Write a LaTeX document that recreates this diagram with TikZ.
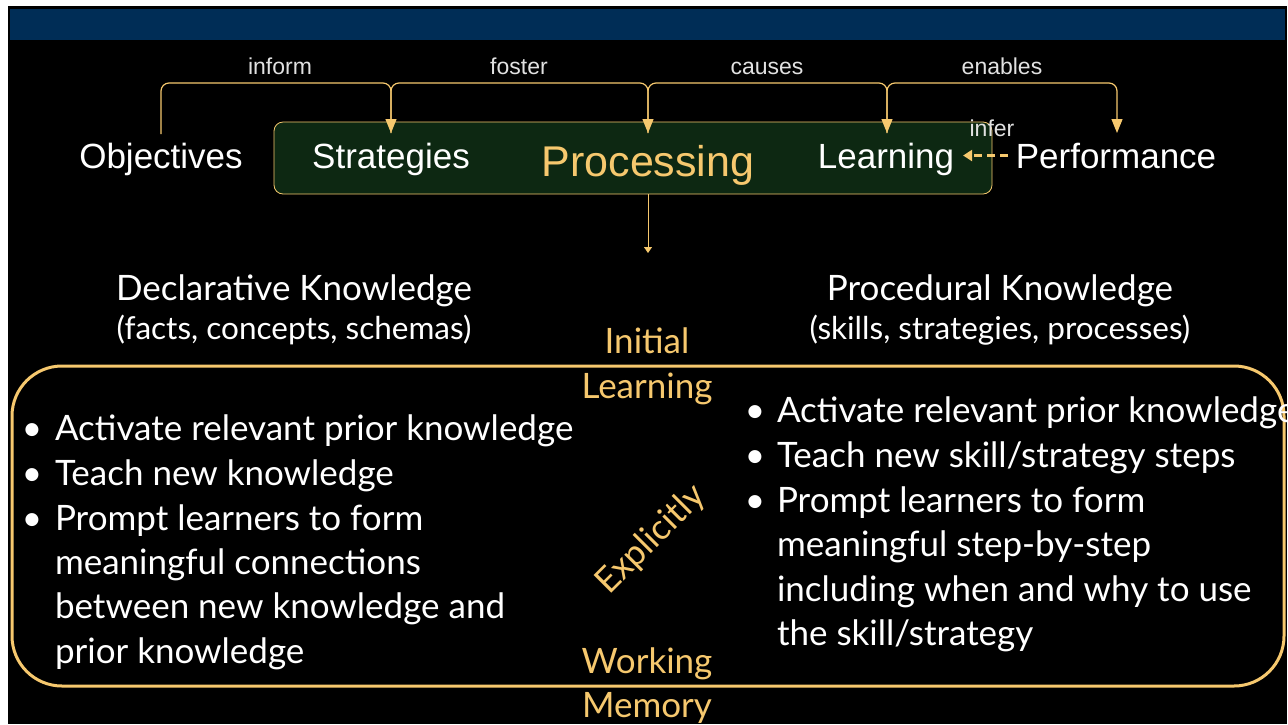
\documentclass[tikz,border=0pt]{standalone}
\usepackage{fontspec}
\newfontfamily\hfont{Liberation Sans}
\newfontfamily\bfont{Lato}
\usetikzlibrary{arrows.meta,calc}
\definecolor{gold}{RGB}{246,200,110}
\definecolor{band}{RGB}{0,45,86}
\definecolor{darkgreen}{RGB}{13,40,18}
\definecolor{lblgray}{RGB}{225,225,225}
\begin{document}
\begin{tikzpicture}[x=1pt,y=-1pt,
  every node/.style={inner sep=0pt, outer sep=0pt},
  toptext/.style={font=\hfont\fontsize{35}{38}\selectfont, text=white, anchor=base},
  reltext/.style={font=\hfont\fontsize{23}{26}\selectfont, text=lblgray, anchor=base},
  conn/.style={draw=gold, line width=1.2pt, rounded corners=8pt, -{Triangle[width=11pt,length=14pt]}},
  headtext/.style={font=\bfont\fontsize{35}{38}\selectfont, text=white, anchor=base},
  subtext/.style={font=\bfont\fontsize{31.5}{34}\selectfont, text=white, anchor=base},
  goldtext/.style={font=\bfont\fontsize{35}{38}\selectfont, text=gold, anchor=base},
  bullettext/.style={font=\bfont\fontsize{35}{38}\selectfont, text=white, anchor=base west},
  bulletdot/.style={font=\bfont\fontsize{35}{38}\selectfont, text=white, anchor=base}
]
\useasboundingbox (0,0) rectangle (1288,724);
\fill[white] (0,0) rectangle (1288,724);
\fill[black] (8,6) rectangle (1287,724);
\fill[band] (10,9) rectangle (1285,40);

% green processing box
\node[draw=gold, line width=0.8pt, fill=darkgreen, rounded corners=9pt,
      minimum width=718pt, minimum height=72pt] (box) at (633,158) {};

% top row
\node[toptext] (obj) at (161,168) {Objectives};
\node[toptext] (str) at (391,168) {Strategies};
\node[toptext, font=\hfont\fontsize{43}{46}\selectfont, text=gold] (proc) at (648,176) {Processing};
\node[toptext] (learn) at (886,168) {Learning};
\node[toptext] (perf) at (1116,168) {Performance};

\coordinate (lvl) at (0,83);
\coordinate (objT) at (161,134);
\coordinate (strT) at (391,133);
\coordinate (procT) at (648,133);
\coordinate (learnT) at (887,133);
\coordinate (perfT) at (1117,133);

\draw[conn] (objT) -- (objT |- lvl) -- (strT |- lvl) -- (strT);
\draw[conn] (strT) -- (strT |- lvl) -- (procT |- lvl) -- (procT);
\draw[conn] (procT) -- (procT |- lvl) -- (learnT |- lvl) -- (learnT);
\draw[conn] (learnT) -- (learnT |- lvl) -- (perfT |- lvl) -- (perfT);

\node[reltext] (inform) at (280,74) {inform};
\node[reltext] (foster) at (519,74) {foster};
\node[reltext] (causes) at (767,74) {causes};
\node[reltext] (enables) at (1002,74) {enables};
\node[reltext] (infer) at (992,136) {infer};

\draw[gold, line width=2.2pt, dash pattern=on 8pt off 5pt, -{Triangle[width=11pt,length=9pt]}]
  ([xshift=-8pt]perf.west) -- ([xshift=9pt]learn.east |- perf.west);

% down arrow
\coordinate (dn) at (648,253);
\draw[gold, line width=1pt, -{Triangle[width=8pt,length=6pt]}] (proc |- box.south) -- (dn);

% headings
\node[headtext] (decl) at (294,300) {Declarative Knowledge};
\node[subtext] (declsub) at (294,339) {(facts, concepts, schemas)};
\node[headtext] (proc2) at (1000,300) {Procedural Knowledge};
\node[subtext] (proc2sub) at (1000,339) {(skills, strategies, processes)};

% big frame
\node[draw=gold, line width=3pt, rounded corners=50pt,
      minimum width=1272pt, minimum height=320pt] (frame) at (648,526) {};

\node[goldtext] (init) at (647,353) {Initial};
\node[goldtext] (initl) at (647,398) {Learning};
\node[goldtext, anchor=center, rotate=45] (expl) at (651,540) {Explicitly};
\node[goldtext] (work) at (647,673) {Working};
\node[goldtext] (mem) at (647,717) {Memory};

% left bullets
\node[bulletdot] (lb1) at (32,440) {•};
\node[bulletdot] (lb2) at (32,485) {•};
\node[bulletdot] (lb3) at (32,530) {•};
\node[bullettext] (l1) at (55,440) {Activate relevant prior knowledge};
\node[bullettext] (l2) at (55,485) {Teach new knowledge};
\node[bullettext] (l3) at (55,530) {Prompt learners to form};
\node[bullettext] (l4) at (55,574) {meaningful connections};
\node[bullettext] (l5) at (55,618) {between new knowledge and};
\node[bullettext] (l6) at (55,663) {prior knowledge};

% right bullets
\node[bulletdot] (rb1) at (755,422) {•};
\node[bulletdot] (rb2) at (755,467) {•};
\node[bulletdot] (rb3) at (755,512) {•};
\node[bullettext] (r1) at (777,422) {Activate relevant prior knowledge};
\node[bullettext] (r2) at (777,467) {Teach new skill/strategy steps};
\node[bullettext] (r3) at (777,512) {Prompt learners to form};
\node[bullettext] (r4) at (777,556) {meaningful step-by-step};
\node[bullettext] (r5) at (777,601) {including when and why to use};
\node[bullettext] (r6) at (777,645) {the skill/strategy};
\end{tikzpicture}
\end{document}
